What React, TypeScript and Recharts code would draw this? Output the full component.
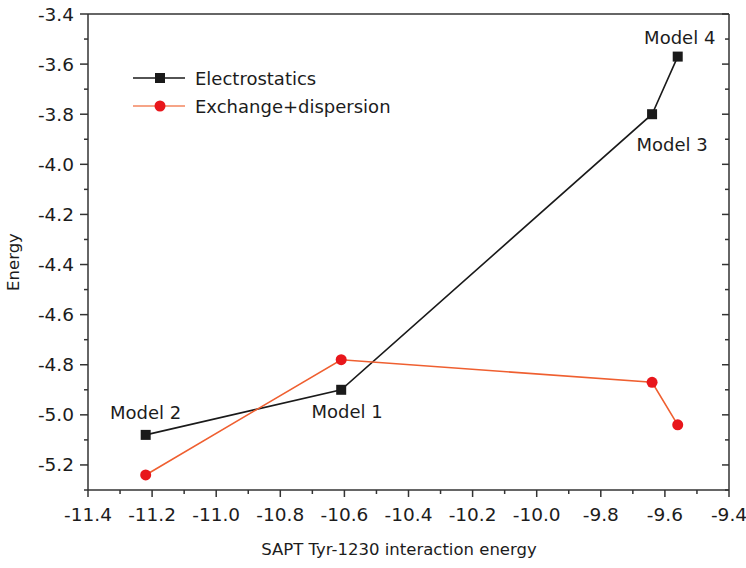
import { LineChart, Line, XAxis, YAxis, LabelList } from "recharts";

const saptEnergy = [-11.22, -10.61, -9.64, -9.56];
const electrostatics = [-5.08, -4.9, -3.8, -3.57];
const exchangeDispersion = [-5.24, -4.78, -4.87, -5.04];
const modelNames = ["Model 2", "Model 1", "Model 3", "Model 4"];
const seriesNames = ["Electrostatics", "Exchange+dispersion"];

const xTicks = [
  -11.4, -11.3, -11.2, -11.1, -11.0, -10.9, -10.8, -10.7, -10.6, -10.5, -10.4,
  -10.3, -10.2, -10.1, -10.0, -9.9, -9.8, -9.7, -9.6, -9.5, -9.4,
];
const yTicks = [
  -5.3, -5.2, -5.1, -5.0, -4.9, -4.8, -4.7, -4.6, -4.5, -4.4, -4.3, -4.2, -4.1,
  -4.0, -3.9, -3.8, -3.7, -3.6, -3.5, -3.4,
];

const FONT = "'DejaVu Sans', Verdana, sans-serif";
const AXIS = "#333";
const TEXT = "#1c1c1c";
const BLACK = "#1a1a1a";
const ORANGE = "#ef5f30";
const RED = "#e8161b";

const electroData = saptEnergy.map((x, i) => ({ x, y: electrostatics[i], name: modelNames[i] }));
const exchangeData = saptEnergy.map((x, i) => ({ x, y: exchangeDispersion[i] }));

const isMajor = (v: number) => Math.abs(Math.round(v * 10)) % 2 === 0;
const fmt = (v: number) => v.toFixed(1);

function BottomTick({ x, y, payload }: any) {
  const major = isMajor(payload.value);
  return (
    <g>
      <line x1={x} y1={y} x2={x} y2={y + (major ? 7 : 4)} stroke={AXIS} strokeWidth={1.5} />
      {major && (
        <text x={x} y={y + 24} textAnchor="middle" dominantBaseline="central" fill={TEXT} fontSize={18.5} fontFamily={FONT}>
          {fmt(payload.value)}
        </text>
      )}
    </g>
  );
}

function LeftTick({ x, y, payload }: any) {
  const major = isMajor(payload.value);
  return (
    <g>
      <line x1={x - (major ? 8 : 4)} y1={y} x2={x} y2={y} stroke={AXIS} strokeWidth={1.5} />
      {major && (
        <text x={x - 14} y={y} textAnchor="end" dominantBaseline="central" fill={TEXT} fontSize={18.5} fontFamily={FONT}>
          {fmt(payload.value)}
        </text>
      )}
    </g>
  );
}

function TopTick({ x, y, payload }: any) {
  const major = isMajor(payload.value);
  return <line x1={x} y1={y} x2={x} y2={y + (major ? 8 : 4)} stroke={AXIS} strokeWidth={1.5} />;
}

function RightTick({ x, y, payload }: any) {
  const major = isMajor(payload.value);
  return <line x1={x - (major ? 7 : 4)} y1={y} x2={x} y2={y} stroke={AXIS} strokeWidth={1.5} />;
}

// label offsets for Model 2, 1, 3, 4
const labelOffsets = [
  [0, -22],
  [6, 22],
  [20, 30],
  [2, -19],
];

function ModelLabel(props: any) {
  const { x, y, value, index } = props;
  const [dx, dy] = labelOffsets[index] || [0, 0];
  return (
    <text x={x + dx} y={y + dy} textAnchor="middle" dominantBaseline="central" fill={TEXT} fontSize={18} fontFamily={FONT}>
      {value}
    </text>
  );
}

function SquareDot(props: any) {
  const { cx, cy, index } = props;
  return <rect key={`sq-${index}`} x={cx - 5} y={cy - 5} width={10} height={10} fill={BLACK} />;
}

function CircleDot(props: any) {
  const { cx, cy, index } = props;
  return <circle key={`ci-${index}`} cx={cx} cy={cy} r={5.5} fill={RED} />;
}

export default function App() {
  return (
    <div style={{ position: "absolute", left: 0, top: 0, width: 746, height: 568, background: "#fff" }}>
      <LineChart width={746} height={568} margin={{ top: 0, right: 0, bottom: 0, left: 0 }}>
        <XAxis
          dataKey="x"
          type="number"
          domain={[-11.4, -9.4]}
          ticks={xTicks}
          interval={0}
          allowDataOverflow
          height={78}
          tickSize={0}
          tickMargin={0}
          tick={<BottomTick />}
          axisLine={{ stroke: AXIS, strokeWidth: 1.5 }}
          label={(p: any) => {
            const vb = p.viewBox || {};
            return (
              <text x={399} y={(vb.y ?? 490) + 59} textAnchor="middle" dominantBaseline="central" fill={TEXT} fontSize={16.5} fontFamily={FONT}>
                SAPT Tyr-1230 interaction energy
              </text>
            );
          }}
        />
        <XAxis
          xAxisId="top"
          orientation="top"
          type="number"
          domain={[-11.4, -9.4]}
          ticks={xTicks}
          interval={0}
          allowDataOverflow
          height={14}
          tickSize={0}
          tickMargin={0}
          tick={<TopTick />}
          axisLine={{ stroke: AXIS, strokeWidth: 1.5 }}
        />
        <YAxis
          type="number"
          domain={[-5.3, -3.4]}
          ticks={yTicks}
          interval={0}
          allowDataOverflow
          width={88}
          tickSize={0}
          tickMargin={0}
          tick={<LeftTick />}
          axisLine={{ stroke: AXIS, strokeWidth: 1.5 }}
          label={() => (
            <text x={13} y={262} transform="rotate(-90 13 262)" textAnchor="middle" dominantBaseline="central" fill={TEXT} fontSize={16.5} fontFamily={FONT}>
              Energy
            </text>
          )}
        />
        <YAxis
          yAxisId="right"
          orientation="right"
          type="number"
          domain={[-5.3, -3.4]}
          ticks={yTicks}
          interval={0}
          allowDataOverflow
          width={17}
          tickSize={0}
          tickMargin={0}
          tick={<RightTick />}
          axisLine={{ stroke: AXIS, strokeWidth: 1.5 }}
        />
        <Line
          data={electroData}
          dataKey="y"
          name={seriesNames[0]}
          stroke={BLACK}
          strokeWidth={1.6}
          dot={<SquareDot />}
          activeDot={false}
          isAnimationActive={false}
        >
          <LabelList dataKey="name" content={<ModelLabel />} />
        </Line>
        <Line
          data={exchangeData}
          dataKey="y"
          name={seriesNames[1]}
          stroke={ORANGE}
          strokeWidth={1.6}
          dot={<CircleDot />}
          activeDot={false}
          isAnimationActive={false}
        />
      </LineChart>
      <svg width={280} height={60} style={{ position: "absolute", left: 130, top: 62 }}>
        <line x1={3} y1={16} x2={55} y2={16} stroke={BLACK} strokeWidth={1.5} />
        <rect x={25} y={11} width={10} height={10} fill={BLACK} />
        <text x={65} y={16} dominantBaseline="central" fill={TEXT} fontSize={18} fontFamily={FONT}>
          {seriesNames[0]}
        </text>
        <line x1={3} y1={44} x2={55} y2={44} stroke="#f3865f" strokeWidth={1.5} />
        <circle cx={30} cy={44} r={5.5} fill={RED} />
        <text x={65} y={44} dominantBaseline="central" fill={TEXT} fontSize={18} fontFamily={FONT}>
          {seriesNames[1]}
        </text>
      </svg>
    </div>
  );
}
